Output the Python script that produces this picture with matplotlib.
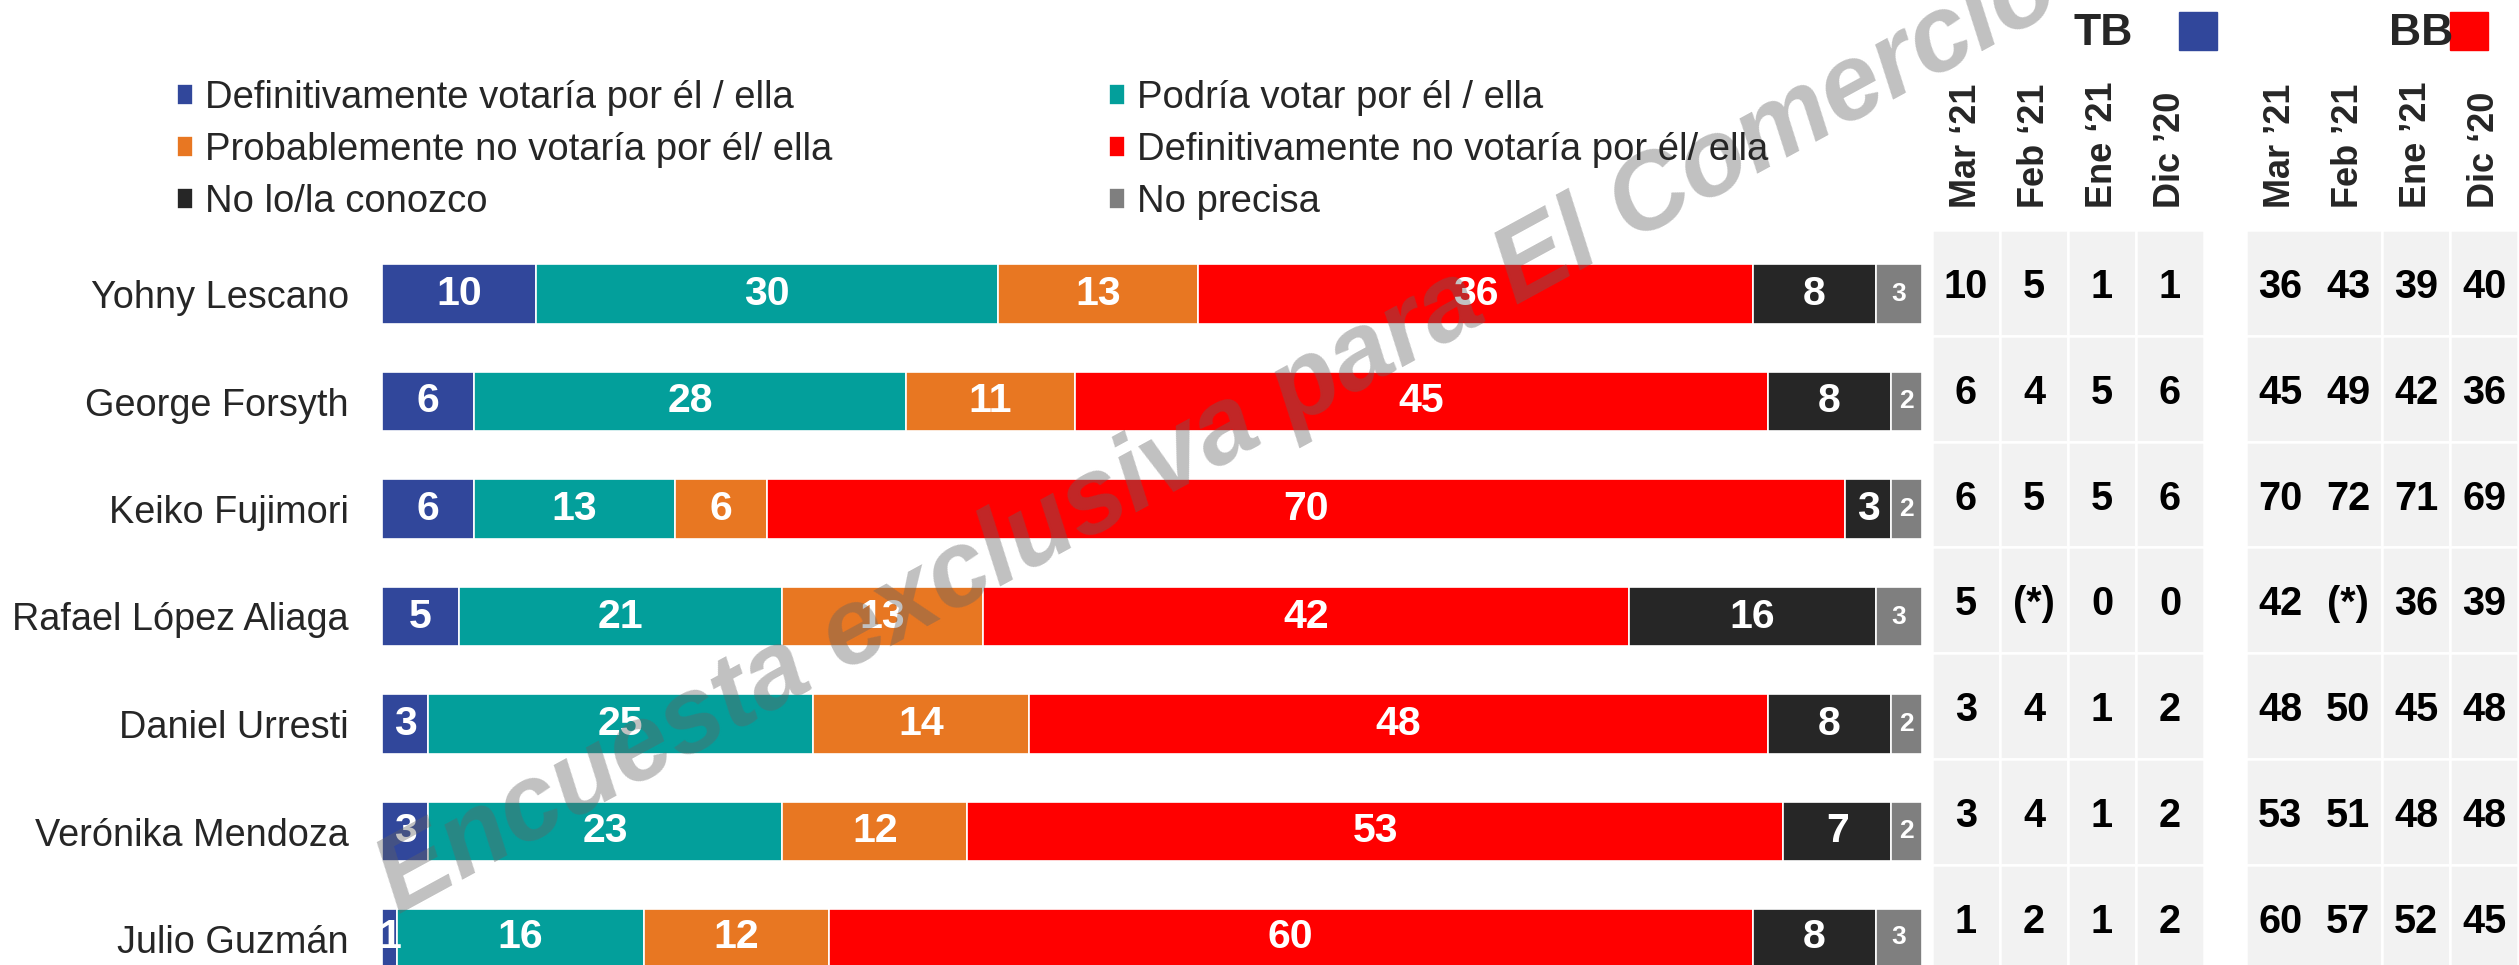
import matplotlib
matplotlib.use("Agg")
import matplotlib.pyplot as plt
from matplotlib.patches import Rectangle
import numpy as np

W, H, DPI = 2519, 965, 100

# --- data -------------------------------------------------------------
candidates = ["Yohny Lescano", "George Forsyth", "Keiko Fujimori", "Rafael López Aliaga",
              "Daniel Urresti", "Verónika Mendoza", "Julio Guzmán"]

definitivamente_si = [10, 6, 6, 5, 3, 3, 1]
podria_votar = [30, 28, 13, 21, 25, 23, 16]
probablemente_no = [13, 11, 6, 13, 14, 12, 12]
definitivamente_no = [36, 45, 70, 42, 48, 53, 60]
no_conoce = [8, 8, 3, 16, 8, 7, 8]
no_precisa = [3, 2, 2, 3, 2, 2, 3]

series_labels = ["Definitivamente votaría por él / ella", "Podría votar por él / ella",
                 "Probablemente no votaría por él/ ella", "Definitivamente no votaría por él/ ella",
                 "No lo/la conozco", "No precisa"]
series_colors = ["#31479B", "#039F9B", "#E87722", "#FF0000", "#262626", "#7F7F7F"]

# top box (TB) and bottom box (BB) history, None = no data "(*)"
tb_months = ["Mar ‘21", "Feb ‘21", "Ene ‘21", "Dic ’20"]
tb_mar = [10, 6, 6, 5, 3, 3, 1]
tb_feb = [5, 4, 5, None, 4, 4, 2]
tb_ene = [1, 5, 5, 0, 1, 1, 1]
tb_dic = [1, 6, 6, 0, 2, 2, 2]

bb_months = ["Mar ’21", "Feb ’21", "Ene ’21", "Dic ‘20"]
bb_mar = [36, 45, 70, 42, 48, 53, 60]
bb_feb = [43, 49, 72, None, 50, 51, 57]
bb_ene = [39, 42, 71, 36, 45, 48, 52]
bb_dic = [40, 36, 69, 39, 48, 48, 45]

# --- layout -----------------------------------------------------------
plt.rcParams["font.family"] = ["Liberation Sans", "DejaVu Sans"]
TEXT = "#262626"

fig = plt.figure(figsize=(W / DPI, H / DPI), dpi=DPI)


def px_box(x0, y0, x1, y1):
    return [x0 / W, 1 - y1 / H, (x1 - x0) / W, (y1 - y0) / H]


# stacked bars
row_pitch = 107.5
bar_top = 294 - row_pitch / 2
ax = fig.add_axes(px_box(382, bar_top, 1922, H))
rows = np.arange(len(candidates))
ax.set_xlim(0, 100)
ax.set_ylim(-0.5 + (H - bar_top) / row_pitch, -0.5)

series = [definitivamente_si, podria_votar, probablemente_no, definitivamente_no, no_conoce, no_precisa]
left = np.zeros(len(candidates))
handles = []
for vals, color, label in zip(series, series_colors, series_labels):
    vals = np.array(vals)
    bc = ax.barh(rows, vals, left=left, height=0.55, color=color,
                 edgecolor="white", linewidth=1.2, label=label)
    small = label == "No precisa"
    ax.bar_label(bc, label_type="center", color="white", fontweight="bold",
                 fontsize=19 if small else 29.5)
    handles.append(bc)
    left += vals

ax.set_yticks(rows)
ax.set_yticklabels(candidates, fontsize=27.3, color=TEXT)
ax.tick_params(axis="y", length=0, pad=24)
ax.set_xticks([])
for s in ax.spines.values():
    s.set_visible(False)

# side table
col_pitch = 68.0
tab_row = 105.8
tab = fig.add_axes(px_box(1932, 230, W, H))
tab.set_xlim(-0.5, -0.5 + (W - 1932) / col_pitch)
tab.set_ylim(-0.5 + (H - 230) / tab_row, -0.5)
tab.axis("off")

tb_x = np.arange(4)
bb_x = 4.62 + np.arange(4)
cell = dict(height=1.0, color="#F2F2F2", edgecolor="white", linewidth=1.8)
for x in tb_x:
    tab.barh(rows, 1.0, left=x - 0.5, **cell)
tab.barh(rows, 2.0, left=bb_x[0] - 0.5, **cell)
for x in bb_x[2:]:
    tab.barh(rows, 1.0, left=x - 0.5, **cell)

for xs, months, cols in [(tb_x, tb_months, [tb_mar, tb_feb, tb_ene, tb_dic]),
                         (bb_x, bb_months, [bb_mar, bb_feb, bb_ene, bb_dic])]:
    for x, month, col in zip(xs, months, cols):
        tab.text(x, -0.5 - 22 / tab_row, month, rotation=90, ha="center", va="bottom",
                 fontsize=26, fontweight="bold", color=TEXT, clip_on=False)
        for r, v in zip(rows, col):
            tab.text(x, r, "(*)" if v is None else str(v), ha="center", va="center_baseline",
                     fontsize=28.5, fontweight="bold", color="black")

# overlay: legend, TB/BB keys, watermark
ov = fig.add_axes([0, 0, 1, 1], zorder=10)
ov.set_xlim(0, W)
ov.set_ylim(H, 0)
ov.axis("off")
ov.patch.set_alpha(0)

order = [0, 2, 4, 1, 3, 5]
ov.legend([handles[i] for i in order], [series_labels[i] for i in order],
          loc="upper left", bbox_to_anchor=(177, 80), bbox_transform=ov.transData,
          ncol=2, frameon=False, fontsize=27.5, labelcolor=TEXT,
          handlelength=0.43, handleheight=0.46, handletextpad=0.3,
          labelspacing=0.42, columnspacing=7.25, borderpad=0, borderaxespad=0)

ov.text(2074, 45, "TB", fontsize=32, fontweight="bold", color=TEXT, va="baseline")
ov.add_patch(Rectangle((2179, 12), 38, 38, color=series_colors[0]))
ov.text(2389, 45, "BB", fontsize=32, fontweight="bold", color=TEXT, va="baseline")
ov.add_patch(Rectangle((2450, 12), 38, 38, color=series_colors[3]))

ov.text(398, 915, "Encuesta exclusiva para El Comercio", rotation=28.6, rotation_mode="anchor",
        ha="left", va="baseline", fontsize=77, fontweight="bold", fontstyle="italic",
        color="#636363", alpha=0.4)

fig.savefig("out.png", dpi=DPI)
